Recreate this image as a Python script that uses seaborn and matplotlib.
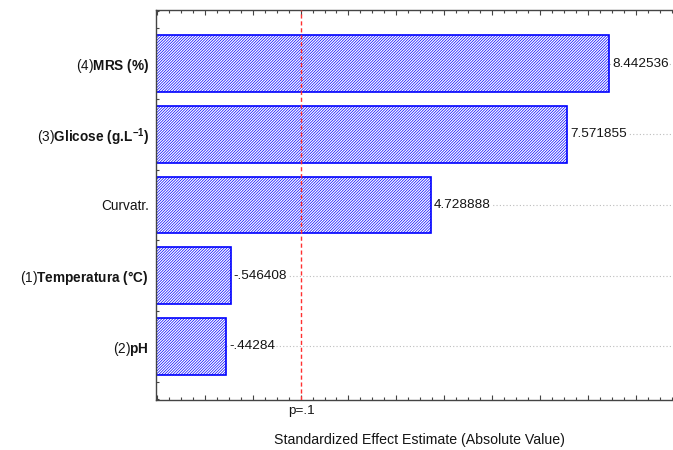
import matplotlib
matplotlib.use("Agg")
import matplotlib.pyplot as plt
from matplotlib.ticker import MultipleLocator
from matplotlib.transforms import blended_transform_factory
import numpy as np
import pandas as pd
import seaborn as sns

# Pareto chart of standardized effects
factor_codes = ["(4)", "(3)", "", "(1)", "(2)"]
factor_names = [
    r"$\mathbf{MRS\ (\%)}$",
    r"$\mathbf{Glicose\ (g.\!L^{-1})}$",
    "Curvatr.",
    r"$\mathbf{Temperatura\ (°C)}$",
    r"$\mathbf{pH}$",
]
effects = [8.442536, 7.571855, 4.728888, -0.546408, -0.44284]
p_label = "p=.1"
t_critical = 2.015
x_title = "Standardized Effect Estimate (Absolute Value)"

sns.set_theme(style="white")
plt.rcParams["font.family"] = ["Liberation Sans", "DejaVu Sans"]
plt.rcParams["mathtext.fontset"] = "custom"
plt.rcParams["mathtext.rm"] = "Liberation Sans"
plt.rcParams["mathtext.bf"] = "Liberation Sans:bold"
plt.rcParams["mathtext.it"] = "Liberation Sans:italic"
plt.rcParams["hatch.linewidth"] = 0.5

text_color = "#141414"
spine_color = "#444444"
blue = "#0000ff"

x_min, x_max = -1.02, 10.0

labels = [c + n for c, n in zip(factor_codes, factor_names)]
df = pd.DataFrame({"factor": labels, "effect": np.abs(effects)})

fig = plt.figure(figsize=(6.73, 4.5), dpi=100)
ax = fig.add_axes([156 / 673, 50 / 450, (683.6 - 156) / 673, 390 / 450])

sns.barplot(
    data=df, x="effect", y="factor", orient="h", ax=ax,
    color="white", saturation=1, width=0.8,
    edgecolor=blue, linewidth=1.2, hatch="////////////",
)

# Statistica-style bars start at the left edge of the axis
for patch in ax.patches:
    right = patch.get_x() + patch.get_width()
    patch.set_x(x_min)
    patch.set_width(right - x_min)

ax.set_xlim(x_min, x_max)
ax.set_ylim(len(labels) - 1 + 0.76, -0.76)

# value labels at the bar ends
def fmt(v):
    s = f"{v:.7g}"
    if s.startswith("0."):
        s = s[1:]
    elif s.startswith("-0."):
        s = "-" + s[2:]
    return s

for i, v in enumerate(effects):
    ax.text(abs(v) + 0.06, i, fmt(v), ha="left", va="center",
            fontsize=9.7, color=text_color,
            bbox=dict(fc="white", ec="none", pad=0.6), zorder=4)

# critical value line
ax.axvline(t_critical, color="#ff3030", lw=1.0, ls=(0, (3, 2)), zorder=5)
trans = blended_transform_factory(ax.transData, ax.transAxes)
ax.text(t_critical, -5 / 390, p_label, transform=trans, ha="center", va="top",
        fontsize=9.7, color=text_color)

# gridlines and ticks
ax.set_axisbelow(True)
ax.yaxis.grid(True, which="major", linestyle=(0, (1, 2)), color="#bdbdbd", lw=0.8)
ax.xaxis.grid(False)
ax.set_xticks(np.arange(-1, 11, 1))
ax.set_xticklabels([])
ax.xaxis.set_minor_locator(MultipleLocator(0.25))
ax.yaxis.set_minor_locator(MultipleLocator(0.25))
ax.tick_params(axis="x", which="both", direction="in", top=True, bottom=True,
               color=spine_color, width=0.8)
ax.tick_params(axis="x", which="major", length=3.5)
ax.tick_params(axis="x", which="minor", length=2.2)
ax.tick_params(axis="y", which="both", direction="in", left=True, right=False,
               color=spine_color, width=0.8)
ax.tick_params(axis="y", which="major", length=2.5, pad=5,
               labelsize=9.8, labelcolor=text_color)
ax.tick_params(axis="y", which="minor", length=2.2)

for side in ["left", "bottom", "top"]:
    ax.spines[side].set_visible(True)
    ax.spines[side].set_color(spine_color)
    ax.spines[side].set_linewidth(1.0)
ax.spines["right"].set_visible(False)

ax.set_ylabel("")
ax.set_xlabel(x_title, fontsize=10.2, color=text_color)
ax.xaxis.set_label_coords(0.5, -40 / 390)
ax.xaxis.label.set_va("center")

fig.savefig("out.png", dpi=100)
